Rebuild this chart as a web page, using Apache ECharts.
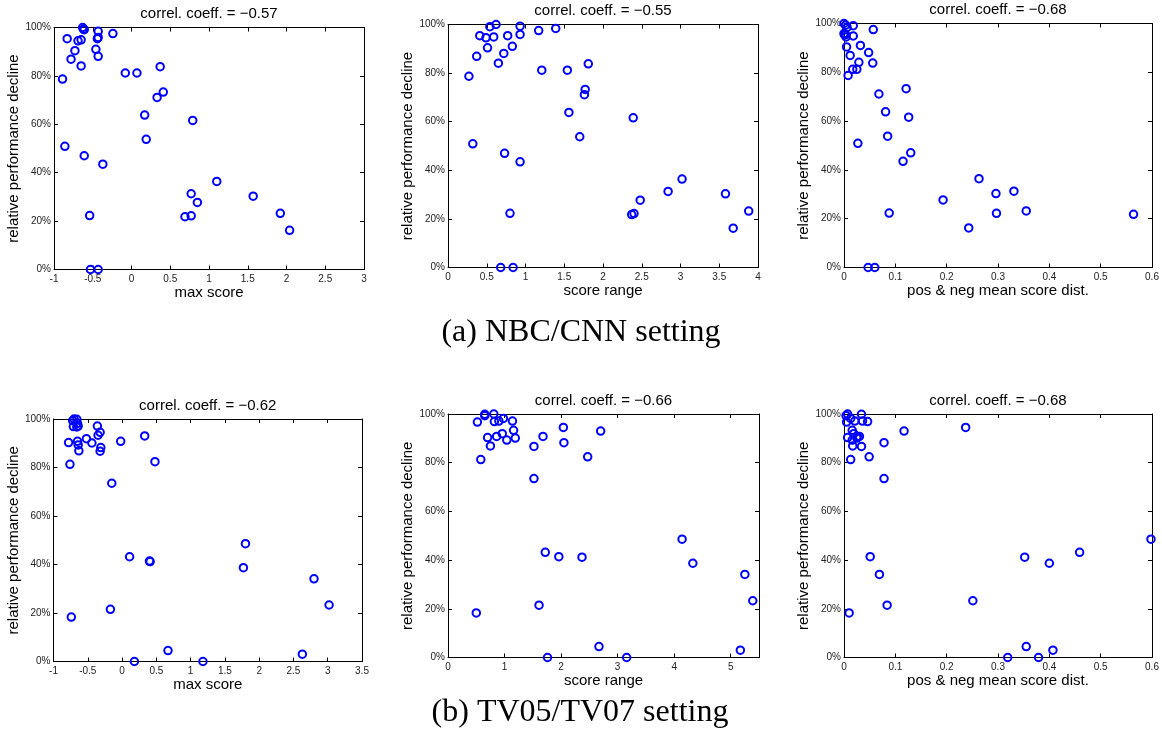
<!DOCTYPE html>
<html>
<head>
<meta charset="utf-8">
<script src="https://cdn.jsdelivr.net/npm/echarts@6/dist/echarts.min.js"></script>
<style>
  html, body { margin: 0; padding: 0; background: #fff; }
  #chart { width: 1162px; height: 740px; }
</style>
</head>
<body>
<div id="chart"></div>
<script>
// ---- NBC/CNN setting (one entry per query, sorted by decline) ----
const nbcDecline = [100, 99.3, 99.1, 98.4, 97.5, 95.9, 95.4, 95.4, 94.9, 94.5, 91.0, 90.4, 88.1, 86.9, 84.1, 83.8, 81.2, 81.2, 78.7,
  73.3, 71.1, 63.8, 61.6, 53.8, 50.9, 47.0, 43.5, 36.4, 31.3, 30.3, 27.7, 23.2, 22.3, 22.2, 21.8, 16.2, 0, 0];
const nbcMaxScore = [-0.63, -0.62, -0.61, -0.43, -0.24, -0.43, -0.83, -0.44, -0.65, -0.69, -0.46, -0.73, -0.43, -0.78, -0.65, 0.37, -0.08, 0.07, -0.89,
  0.41, 0.33, 0.17, 0.79, 0.19, -0.86, -0.61, -0.37, 1.10, 0.77, 1.57, 0.85, 1.92, -0.54, 0.77, 0.69, 2.04, -0.53, -0.43];
const nbcScoreRange = [0.62, 0.93, 0.54, 1.39, 1.17, 0.93, 0.41, 0.77, 0.59, 0.49, 0.83, 0.51, 0.72, 0.37, 0.65, 1.81, 1.21, 1.54, 0.27,
  1.77, 1.76, 1.56, 2.39, 1.70, 0.32, 0.73, 0.93, 3.02, 2.84, 3.58, 2.48, 3.88, 0.80, 2.40, 2.37, 3.68, 0.68, 0.84];
const nbcMeanDist = [0.000, 0.003, 0.018, 0.006, 0.057, 0.000, 0.003, 0.001, 0.018, 0.004, 0.032, 0.005, 0.048, 0.012, 0.029, 0.056, 0.017, 0.025, 0.008,
  0.121, 0.068, 0.081, 0.126, 0.085, 0.027, 0.130, 0.115, 0.263, 0.331, 0.296, 0.193, 0.355, 0.088, 0.297, 0.564, 0.243, 0.047, 0.060];

// ---- TV05/TV07 setting ----
const tvDecline = [100, 99.9, 99.3, 98.2, 97.1, 97.1, 96.9, 96.7, 94.5, 93.3, 93.0, 91.9, 90.8, 90.8, 90.3, 90.1, 89.3, 88.2, 86.9, 86.7,
  82.4, 81.3, 73.5, 48.6, 43.2, 41.4, 41.2, 38.7, 34.1, 23.3, 21.5, 18.3, 4.5, 3.0, 0, 0];
const tvMaxScore = [-0.70, -0.66, -0.72, -0.65, -0.64, -0.36, -0.71, -0.66, -0.32, -0.35, 0.33, -0.52, -0.65, -0.02, -0.78, -0.44, -0.64, -0.31, -0.63, -0.32,
  0.48, -0.76, -0.15, 1.80, 0.11, 0.40, 0.41, 1.77, 2.80, 3.02, -0.17, -0.74, 0.67, 2.63, 0.18, 1.18];
const tvScoreRange = [0.81, 0.65, 0.65, 0.98, 0.90, 1.14, 0.82, 0.52, 2.04, 1.16, 2.70, 0.96, 0.86, 1.68, 0.70, 1.19, 1.04, 2.05, 0.75, 1.52,
  2.47, 0.58, 1.52, 4.14, 1.72, 1.96, 2.37, 4.33, 5.25, 5.39, 1.61, 0.50, 2.67, 5.17, 1.76, 3.16];
const tvMeanDist = [0.007, 0.034, 0.004, 0.013, 0.021, 0.036, 0.046, 0.005, 0.237, 0.016, 0.117, 0.019, 0.030, 0.026, 0.007, 0.025, 0.016, 0.078, 0.017, 0.034,
  0.049, 0.013, 0.078, 0.598, 0.459, 0.051, 0.352, 0.400, 0.069, 0.251, 0.084, 0.010, 0.355, 0.407, 0.319, 0.379];

// ---- labels ----
const xAxisNames = ['max score', 'score range', 'pos & neg mean score dist.'];
const yAxisName = 'relative performance decline';
const correlations = [-0.57, -0.55, -0.68, -0.62, -0.66, -0.68];
const captions = ['(a) NBC/CNN setting', '(b) TV05/TV07 setting'];
// x axis [min, max, step] per panel; y axis runs 0..100 % in steps of 20
const xRanges = [[-1, 3, 0.5], [0, 4, 0.5], [0, 0.6, 0.1], [-1, 3.5, 0.5], [0, 5.5, 1], [0, 0.6, 0.1]];
const yRange = [0, 100, 20];

const SANS = '"Liberation Sans", Arial, Helvetica, sans-serif';

const panels = [
  { box: [54, 27.5, 310, 242],    x: nbcMaxScore,   y: nbcDecline },
  { box: [448, 24.5, 310, 243],   x: nbcScoreRange, y: nbcDecline },
  { box: [844, 23.5, 308, 244],   x: nbcMeanDist,   y: nbcDecline },
  { box: [53.5, 419, 308.5, 242.5], x: tvMaxScore,  y: tvDecline },
  { box: [448, 414, 311, 243.5],  x: tvScoreRange,  y: tvDecline },
  { box: [844, 414, 308, 243.5],  x: tvMeanDist,    y: tvDecline }
];

function stepLabel(step) {
  return function (v) {
    const k = v / step;
    if (Math.abs(k - Math.round(k)) > 1e-6) return '';
    return String(Math.round(v * 100) / 100);
  };
}

const lineStyle = { color: '#000', width: 1 };
const tickStyle = { show: true, inside: true, length: 4, lineStyle: { color: '#000', width: 1 } };

const grid = [], xAxis = [], yAxis = [], series = [], title = [];

panels.forEach(function (p, i) {
  const [left, top, width, height] = p.box;
  const [xmin, xmax, xstep] = xRanges[i];
  grid.push({ left: left, top: top, width: width, height: height });

  // bottom axis with labels, top axis mirrors the ticks
  xAxis.push({
    gridIndex: i, type: 'value', position: 'bottom', min: xmin, max: xmax, interval: xstep,
    name: xAxisNames[i % 3], nameLocation: 'middle', nameGap: 15,
    nameTextStyle: { fontSize: 15, fontFamily: SANS, color: '#000' },
    axisLine: { show: true, onZero: false, lineStyle: lineStyle },
    axisTick: tickStyle,
    axisLabel: { fontSize: 10, fontFamily: SANS, color: '#222', margin: 5, formatter: stepLabel(xstep) },
    splitLine: { show: false }
  });
  xAxis.push({
    gridIndex: i, type: 'value', position: 'top', min: xmin, max: xmax, interval: xstep,
    axisLine: { show: true, onZero: false, lineStyle: lineStyle },
    axisTick: tickStyle, axisLabel: { show: false }, splitLine: { show: false }
  });

  // left axis with labels, right axis mirrors the ticks
  yAxis.push({
    gridIndex: i, type: 'value', position: 'left', min: yRange[0], max: yRange[1], interval: yRange[2],
    name: yAxisName, nameLocation: 'middle', nameGap: 27,
    nameTextStyle: { fontSize: 15, fontFamily: SANS, color: '#000' },
    axisLine: { show: true, onZero: false, lineStyle: lineStyle },
    axisTick: tickStyle,
    axisLabel: { fontSize: 10, fontFamily: SANS, color: '#222', margin: 3, formatter: function (v) { return v + '%'; } },
    splitLine: { show: false }
  });
  yAxis.push({
    gridIndex: i, type: 'value', position: 'right', min: yRange[0], max: yRange[1], interval: yRange[2],
    axisLine: { show: true, onZero: false, lineStyle: lineStyle },
    axisTick: tickStyle, axisLabel: { show: false }, splitLine: { show: false }
  });

  // hollow rings, no fill so overlapping marks stay visible
  series.push({
    type: 'scatter', xAxisIndex: 2 * i, yAxisIndex: 2 * i,
    data: p.x.map(function (v, k) { return [v, p.y[k]]; }),
    symbol: 'circle', symbolSize: 7.5, clip: false,
    itemStyle: { color: 'rgba(0,0,0,0)', borderColor: '#0000ff', borderWidth: 2, opacity: 1 },
    emphasis: { disabled: true }
  });

  title.push({
    text: 'correl. coeff. = ' + correlations[i].toFixed(2).replace('-', '\u2212'),
    left: left + width / 2, top: top - 21, textAlign: 'center', padding: 0,
    textStyle: { fontSize: 15, fontWeight: 'normal', fontFamily: SANS, color: '#000' }
  });
});

const SERIF = '"Liberation Serif", "Times New Roman", serif';
const graphic = [
  { type: 'text', x: 581, y: 333, style: { text: captions[0], fontSize: 32, fontFamily: SERIF, fill: '#000', align: 'center', verticalAlign: 'middle' } },
  { type: 'text', x: 580, y: 713, style: { text: captions[1], fontSize: 32, fontFamily: SERIF, fill: '#000', align: 'center', verticalAlign: 'middle' } }
];

const chart = echarts.init(document.getElementById('chart'), null, { renderer: 'canvas' });
chart.setOption({
  animation: false,
  backgroundColor: '#fff',
  title: title,
  grid: grid,
  xAxis: xAxis,
  yAxis: yAxis,
  series: series,
  graphic: graphic
});
</script>
</body>
</html>
